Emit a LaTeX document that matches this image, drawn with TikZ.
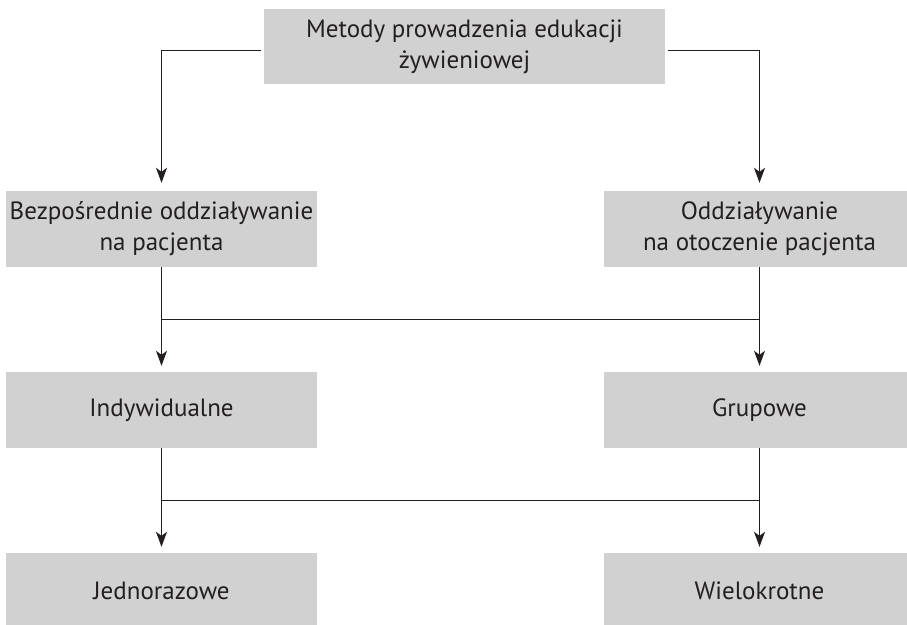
\documentclass[tikz,border=0pt]{standalone}
\usepackage{fontspec}
\setmainfont{PT Sans}
\usetikzlibrary{calc,positioning,arrows.meta}
\definecolor{boxgray}{RGB}{208,209,208}
\definecolor{textdark}{RGB}{35,31,32}

\begin{document}
\begin{tikzpicture}[x=1pt,y=-1pt,
  box/.style={fill=boxgray, text=textdark, minimum width=311pt, minimum height=76pt,
    inner sep=0pt, align=center, font=\fontsize{25}{31}\selectfont},
  link/.style={line width=1.3pt, draw=textdark},
  arr/.style={link, -{Stealth[length=15pt,width=11pt,inset=4pt]}, shorten >=6pt}]
  \useasboundingbox (0,0) rectangle (907,624);

  % Top
  \node[box, minimum width=401pt, minimum height=75pt] (metody) at (464.5,46.5)
    {Metody prowadzenia edukacji\\żywieniowej};

  % Level 1
  \node[box] (bezp) at (161.5,229) {Bezpośrednie oddziaływanie\\na pacjenta};
  \node[box] (otocz) at (759.5,229) {Oddziaływanie\\na otoczenie pacjenta};
  \draw[arr, shorten <=3pt, shorten >=8pt] ([yshift=-4pt]metody.west) -| (bezp.north);
  \draw[arr, shorten <=3pt, shorten >=8pt] ([yshift=-4pt]metody.east) -| (otocz.north);

  % Level 2
  \node[box] (indyw) at (161.5,410) {Indywidualne};
  \node[box] (grup) at (759.5,410) {Grupowe};
  \draw[arr] (bezp) -- (indyw);
  \draw[arr] (otocz) -- (grup);
  \draw[link] ($(bezp.south)!0.5!(indyw.north)$) -- ($(otocz.south)!0.5!(grup.north)$);

  % Level 3
  \node[box] (jedn) at (161.5,591) {Jednorazowe};
  \node[box] (wielo) at (759.5,591) {Wielokrotne};
  \draw[arr] (indyw) -- (jedn);
  \draw[arr] (grup) -- (wielo);
  \draw[link] ($(indyw.south)!0.5!(jedn.north)$) -- ($(grup.south)!0.5!(wielo.north)$);
\end{tikzpicture}
\end{document}
